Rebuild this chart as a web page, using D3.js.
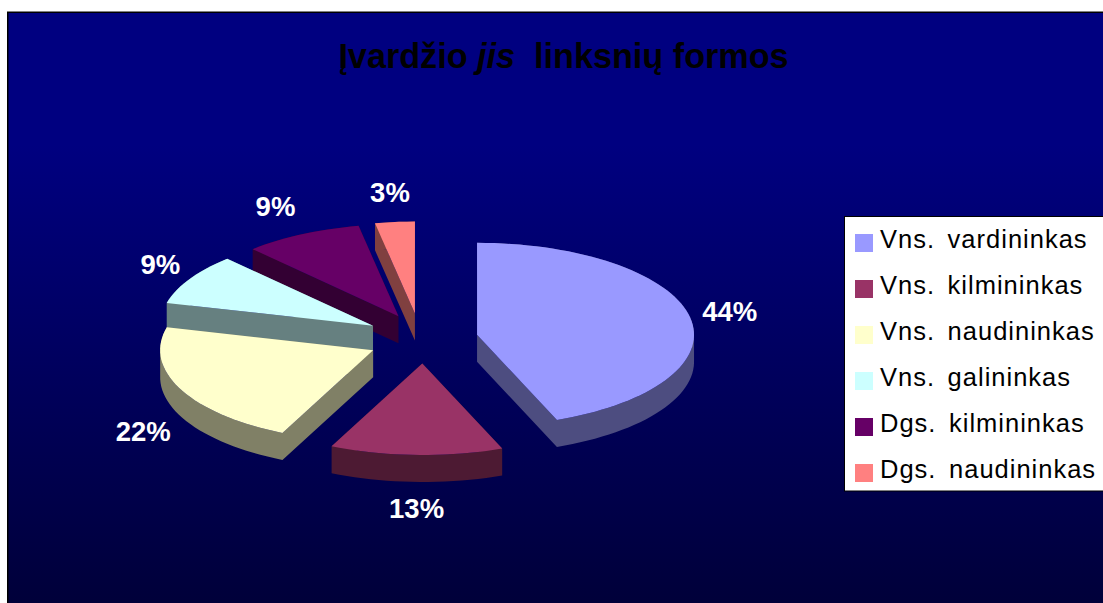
<!DOCTYPE html>
<html><head><meta charset="utf-8">
<script src="https://cdn.jsdelivr.net/npm/d3@7"></script>
<style>html,body{margin:0;padding:0;background:#fff;overflow:hidden}svg{display:block}text{font-family:"Liberation Sans",Arial,sans-serif;white-space:pre}</style>
</head><body><svg id="c" width="1103" height="603"></svg>
<script>
const categories=["Vns. vardininkas","Vns. kilmininkas","Vns. naudininkas","Vns. galininkas","Dgs. kilmininkas","Dgs. naudininkas"];
const values=[44,13,22,9,9,3];
const topColors=["#9999FF","#993366","#FFFFCC","#CCFFFF","#660066","#FF8080"];
const sideColors=["#4D4D80","#4D1A33","#808066","#668080","#330033","#804040"];
const labelOffsets=[[40.5,4],[2,63],[-38.1,52.5],[-32.9,-5],[-26.3,-18],[-7.9,-20]];
const apexNudge=[[1,1],[1,0],[-1,1],[-3.5,0],[0,0],[-3,0]];

const svg=d3.select("#c");
const defs=svg.append("defs");
const g=defs.append("linearGradient").attr("id","bg").attr("x1",0).attr("y1",0).attr("x2",0).attr("y2",1);
g.append("stop").attr("offset",0.22).attr("stop-color","#000080");
g.append("stop").attr("offset",1).attr("stop-color","#000038");
svg.append("rect").attr("x",7).attr("y",11).attr("width",1100).attr("height",600).attr("fill","#808080");
svg.append("rect").attr("x",7).attr("y",12).attr("width",1100).attr("height",600).attr("fill","#000");
svg.append("rect").attr("x",8.5).attr("y",13).attr("width",1100).attr("height",600).attr("fill","url(#bg)");

const title=svg.append("text").attr("x",563.5).attr("y",68).attr("text-anchor","middle")
  .attr("font-size",34.2).attr("font-weight","bold").attr("fill","#000");
title.append("tspan").text("Įvardžio ");
title.append("tspan").attr("font-style","italic").text("jis ");
title.append("tspan").text(" linksnių formos");

const cx=423,cy=338.5,rxLeft=213,rxRight=217,ryBack=92,ryFront=91.5,depth=27,ex=54,ey=25;
const sx=d3.scaleLinear().domain([-1,0,1]).range([cx-rxLeft,cx,cx+rxRight]);
const sy=d3.scaleLinear().domain([-1,0,1]).range([cy-ryBack,cy,cy+ryFront]);
const arcs=d3.pie().sort(null)(values);
const line=d3.line().x(d=>d[0]).y(d=>d[1]);

const slices=arcs.map((a,i)=>{
  const mid=(a.startAngle+a.endAngle)/2;
  const dx=ex*Math.sin(mid)+apexNudge[i][0],dy=-ey*Math.cos(mid)+apexNudge[i][1];
  const n=Math.max(4,Math.ceil((a.endAngle-a.startAngle)/0.04));
  const rim=d3.range(n+1).map(k=>{
    const t=a.startAngle+(a.endAngle-a.startAngle)*k/n;
    return [sx(Math.sin(t))+dx,sy(-Math.cos(t))+dy];
  });
  const apex=[cx+dx,cy+dy];
  return {i,apex,poly:[apex,...rim]};
}).sort((p,q)=>p.apex[1]-q.apex[1]);

slices.forEach(s=>{
  const P=s.poly;
  let d="";
  P.forEach((p,k)=>{
    const q=P[(k+1)%P.length];
    const quad=[p,q,[q[0],q[1]+depth],[p[0],p[1]+depth]];
    if(d3.polygonArea(quad)<0) quad.reverse();
    d+=line(quad)+"Z";
  });
  svg.append("path").attr("d",d).attr("fill",sideColors[s.i]);
  svg.append("path").attr("d",line(P)+"Z").attr("fill",topColors[s.i]);
});

arcs.forEach((a,i)=>{
  const mid=(a.startAngle+a.endAngle)/2;
  const x=sx(Math.sin(mid))+ex*Math.sin(mid)+labelOffsets[i][0];
  const y=sy(-Math.cos(mid))-ey*Math.cos(mid)+labelOffsets[i][1];
  svg.append("text").attr("x",x).attr("y",y).attr("text-anchor","middle")
    .attr("font-size",27.5).attr("font-weight","bold").attr("fill","#fff").text(values[i]+"%");
});

const lx=844.5,ly=216.5,lh=274.5,lw=262,step=46;
svg.append("rect").attr("x",lx).attr("y",ly).attr("width",lw).attr("height",lh).attr("fill","#fff").attr("stroke","#000");
categories.forEach((c,i)=>{
  const y0=ly+22.5+i*step;
  svg.append("rect").attr("x",855).attr("y",y0-5).attr("width",18).attr("height",18).attr("fill",topColors[i]);
  svg.append("text").attr("x",880).attr("y",y0+9).attr("font-size",25.5).attr("letter-spacing",1).attr("word-spacing",4.5).attr("fill","#000").text(c);
});
</script></body></html>
